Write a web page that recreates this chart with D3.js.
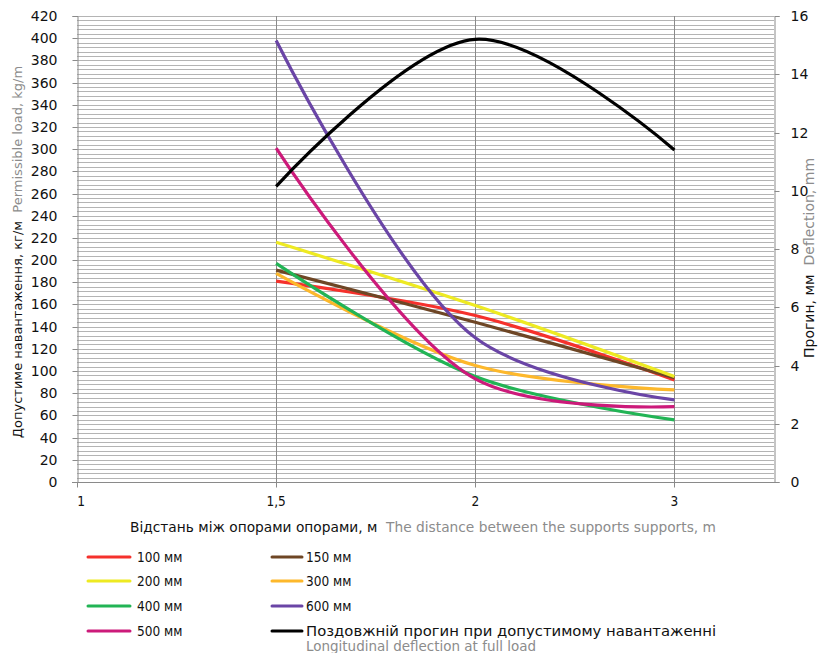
<!DOCTYPE html>
<html><head><meta charset="utf-8">
<script src="https://cdn.jsdelivr.net/npm/d3@7"></script>
<style>
html,body{margin:0;padding:0;background:#fff;}
svg{display:block;}
</style></head>
<body>
<svg id="chart" width="820" height="653"></svg>
<script>
// ---- data ----
const categories = ["1", "1,5", "2", "3"];
const load100 = [null, 181, 150, 92];
const load150 = [null, 191, 144, 94];
const load200 = [null, 216, 159, 95];
const load300 = [null, 188, 105, 83];
const load400 = [null, 197, 95, 56];
const load500 = [null, 301, 93, 68];
const load600 = [null, 398, 130, 74];
const deflection = [null, 10.15, 15.2, 11.4];
const leftTicks = [0,20,40,60,80,100,120,140,160,180,200,220,240,260,280,300,320,340,360,380,400,420];
const rightTicks = [0,2,4,6,8,10,12,14,16];
const seriesNames = ["100 мм","150 мм","200 мм","300 мм","400 мм","500 мм","600 мм"];
const seriesColors = ["#f5312c","#6e4625","#eeea22","#fdb82b","#22b455","#cc1a7a","#6a45a6"];
const seriesData = [load100, load150, load200, load300, load400, load500, load600];
const deflName = "Поздовжній прогин при допустимому навантаженні";
const deflNameEn = "Longitudinal deflection at full load";

const svg = d3.select("#chart");
const L = 77, R = 774, T = 16, B = 482;
const x = d3.scaleLinear().domain([0, 3.5]).range([L, R]);
const y = d3.scaleLinear().domain([0, 420]).range([B, T]);
const y2 = d3.scaleLinear().domain([0, 16]).range([B, T]);
const crisp = v => Math.round(v) + 0.5;
const ff = "DejaVu Sans, Verdana, sans-serif";

// minor horizontal grid
const g = svg.append("g");
d3.range(4, 421, 4).forEach(v => {
  g.append("line").attr("x1", L).attr("x2", R).attr("y1", crisp(y(v))).attr("y2", crisp(y(v)))
    .attr("stroke", "#b4b4b4").attr("stroke-width", 1);
});
// vertical category lines
[1,2,3].forEach(i => {
  g.append("line").attr("x1", crisp(x(i))).attr("x2", crisp(x(i))).attr("y1", T).attr("y2", B)
    .attr("stroke", "#8a8a8a").attr("stroke-width", 1);
});

// left axis
const ax = svg.append("g").attr("transform", `translate(${crisp(L)},0)`)
  .call(d3.axisLeft(y).tickValues(leftTicks).tickSize(5).tickPadding(15).tickFormat(d3.format("d")));
ax.select(".domain").attr("stroke", "#8a8a8a");
ax.selectAll(".tick line").attr("stroke", "#8a8a8a");
ax.selectAll("text").attr("font-family", ff).attr("font-size", 14).attr("fill", "#111");
ax.selectAll(".tick").attr("transform", d => `translate(0,${crisp(y(d))})`);

// right axis
const ax2 = svg.append("g").attr("transform", `translate(${crisp(R)},0)`)
  .call(d3.axisRight(y2).tickValues(rightTicks).tickSize(5).tickPadding(11).tickFormat(d3.format("d")));
ax2.select(".domain").attr("stroke", "#8a8a8a");
ax2.selectAll(".tick line").attr("stroke", "#8a8a8a");
ax2.selectAll("text").attr("font-family", ff).attr("font-size", 14).attr("fill", "#111");
ax2.selectAll(".tick").attr("transform", d => `translate(0,${crisp(y2(d))})`);

// bottom axis
const xb = svg.append("g").attr("transform", `translate(0,${crisp(B)})`);
xb.append("line").attr("x1", L - 5).attr("x2", R + 5).attr("y1", 0).attr("y2", 0).attr("stroke", "#8a8a8a");
categories.forEach((c, i) => {
  xb.append("line").attr("x1", crisp(x(i))).attr("x2", crisp(x(i))).attr("y1", 0).attr("y2", 5).attr("stroke", "#8a8a8a");
  xb.append("text").attr("x", x(i) + (i === 0 ? 4 : 0)).attr("y", 23).attr("text-anchor", "middle")
    .attr("font-family", "DejaVu Sans Condensed, DejaVu Sans, sans-serif").attr("font-size", 13.5).attr("fill", "#111").text(c);
});

// series lines
const line = d3.line().defined(d => d.v != null).x(d => x(d.i)).curve(d3.curveCatmullRom.alpha(0.5));
seriesData.forEach((arr, k) => {
  const pts = arr.map((v, i) => ({i, v}));
  svg.append("path").datum(pts).attr("fill", "none").attr("stroke", seriesColors[k]).attr("stroke-width", 3.2)
    .attr("stroke-linejoin", "round")
    .attr("d", line.y(d => y(d.v)));
});
const dpts = deflection.map((v, i) => ({i, v}));
svg.append("path").datum(dpts).attr("fill", "none").attr("stroke", "#000").attr("stroke-width", 3.2)
  .attr("d", line.y(d => y2(d.v)));

// axis titles
const lt = svg.append("text").attr("transform", "translate(22,252) rotate(-90)").attr("text-anchor", "middle")
  .attr("font-family", ff).attr("font-size", 13);
lt.append("tspan").attr("fill", "#111").text("Допустиме навантаження, кг/м");
lt.append("tspan").attr("fill", "#8c8c8c").text("\u00a0\u00a0Permissible load, kg/m");

const rt = svg.append("text").attr("transform", "translate(814,258) rotate(-90)").attr("text-anchor", "middle")
  .attr("font-family", ff).attr("font-size", 14);
rt.append("tspan").attr("fill", "#111").text("Прогин, мм");
rt.append("tspan").attr("fill", "#8c8c8c").text("\u00a0\u00a0Deflection, mm");

const xt = svg.append("text").attr("x", 423).attr("y", 532).attr("text-anchor", "middle")
  .attr("font-family", ff).attr("font-size", 13.5).attr("textLength", 586).attr("lengthAdjust", "spacingAndGlyphs");
xt.append("tspan").attr("fill", "#111").text("Відстань між опорами опорами, м");
xt.append("tspan").attr("fill", "#8c8c8c").text("\u00a0\u00a0The distance between the supports supports, m");

// legend
const lf = "DejaVu Sans Condensed, DejaVu Sans, sans-serif";
const rows = [557, 581, 606, 631];
const cols = [[88, 130, 137], [272, 302, 306]];
const legendItems = [0, 1, 2, 3, 4, 6, 5].map(k => ({name: seriesNames[k], color: seriesColors[k]}));
legendItems.push({name: deflName, color: "#000", len: 410});
legendItems.forEach((it, j) => {
  const r = Math.floor(j / 2), c = j % 2;
  const [x1, x2, tx] = cols[c];
  const yy = rows[r];
  svg.append("line").attr("x1", x1).attr("x2", x2).attr("y1", yy).attr("y2", yy)
    .attr("stroke", it.color).attr("stroke-width", 3).attr("stroke-linecap", "round");
  const t = svg.append("text").attr("x", tx).attr("y", yy + 5).attr("font-family", lf).attr("font-size", 13.5)
    .attr("fill", "#111").text(it.name);
  if (it.len) t.attr("textLength", it.len).attr("lengthAdjust", "spacingAndGlyphs");
});
svg.append("text").attr("x", cols[1][2]).attr("y", rows[3] + 20).attr("font-family", lf).attr("font-size", 13.5)
  .attr("fill", "#8c8c8c").attr("textLength", 230).attr("lengthAdjust", "spacingAndGlyphs").text(deflNameEn);
</script>
</body></html>
